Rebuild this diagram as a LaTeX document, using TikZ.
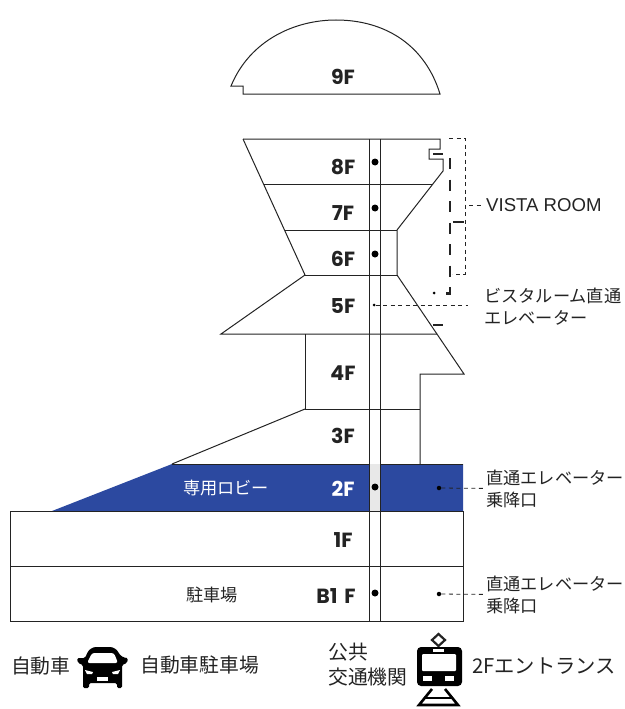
\documentclass[tikz,border=0pt]{standalone}
\usepackage{fontspec}
\setmainfont{Liberation Sans}
\newfontfamily\jpfont{Noto Sans CJK JP}
\newfontfamily\floorfont{Poppins}
\definecolor{lobbyblue}{RGB}{44,73,160}
\definecolor{inkgray}{RGB}{35,35,35}
\tikzset{
  floorlabel/.style={font=\floorfont\bfseries\fontsize{20.5}{22}\selectfont,text=inkgray,inner sep=0pt},
  jplabel/.style={font=\jpfont\fontsize{17.2}{22}\selectfont,text=inkgray,inner sep=0pt,anchor=west,align=left},
  iconlabel/.style={font=\jpfont\fontsize{19.8}{25}\selectfont,text=inkgray,inner sep=0pt,anchor=west,align=left},
  wall/.style={draw=inkgray,line width=1pt},
  leader/.style={draw=inkgray,line width=0.8pt,dash pattern=on 4pt off 3.5pt},
  route/.style={draw=inkgray,line width=2.6pt},
  bigdot/.style={circle,fill=black,inner sep=0pt,minimum size=7pt},
  smalldot/.style={circle,fill=black,inner sep=0pt,minimum size=4.5pt},
}
\begin{document}
\begin{tikzpicture}[x=1pt,y=-1pt]
\useasboundingbox (0,0) rectangle (624,709);

% 9F dome
\draw[wall] (231,86) .. controls (250,40) and (295,20) .. (336,20)
  .. controls (385,20) and (425,45) .. (440,94) -- (243,94) -- (243,86) -- cycle;

% main building
\draw[wall] (243,139) -- (440,139) -- (440,149) -- (429,149) -- (429,159) -- (443,159) -- (443,171)
  -- (397,230) -- (397,275) -- (464,374) -- (420,374) -- (420,464);
\draw[wall] (243,139) -- (305,275) -- (221,334) -- (437,334);
\draw[wall] (264,184) -- (432,184);
\draw[wall] (285,230) -- (397,230);
\draw[wall] (305,275) -- (397,275);
\draw[wall] (305,334) -- (305,409) -- (420,409);
\draw[wall] (305,409) -- (172,464);

% lower floors
\fill[lobbyblue] (52,511) -- (172,464) -- (463,464) -- (463,511) -- cycle;
\draw[wall] (172,464) -- (463,464);
\draw[wall] (10,511) rectangle (463,566);
\draw[wall] (10,566) rectangle (463,621);

% shaft
\fill[black!9] (369,464) rectangle (380,511);
\draw[wall] (369,139) -- (369,621);
\draw[wall] (380,139) -- (380,621);

% vista room route
\draw[route,dash pattern=on 11pt off 10.5pt] (450,158) -- (450,293.5) -- (445,293.5);
\draw[route] (433,154) -- (443,154);
\draw[route] (453,222) -- (464,222);
\draw[route] (433,325) -- (443,325);
\node[smalldot,minimum size=3pt] (viewdot) at (434,293) {};
\draw[leader] (449,138) -- (465,138) -- (465,274) -- (452,274);

% floors
\node[floorlabel] (f9) at (343,77) {9F};
\node[floorlabel] (f8) at (343,167) {8F};
\node[floorlabel] (f7) at (343,213) {7F};
\node[floorlabel] (f6) at (343,259) {6F};
\node[floorlabel] (f5) at (343,306) {5F};
\node[floorlabel] (f4) at (343,373) {4F};
\node[floorlabel] (f3) at (343,436) {3F};
\node[floorlabel,text=white] (f2) at (343,489) {2F};
\node[floorlabel] (f1) at (343,540) {1F};
\node[floorlabel] (fb) at (336,596) {B1\,\,F};

% dots
\node[bigdot] (d8) at (375,162) {};
\node[bigdot] (d7) at (375,208) {};
\node[bigdot] (d6) at (375,254) {};
\node[smalldot,minimum size=3pt] (d5) at (374,305) {};
\node[bigdot] (d2) at (375,487) {};
\node[bigdot] (db) at (375,593) {};
\node[smalldot] (e2) at (439,488) {};
\node[smalldot] (eb) at (439,594) {};

% labels
\node[jplabel,text=white,anchor=center] (lobby) at (226,488) {専用ロビー};
\node[jplabel,anchor=center] (park) at (212,595) {駐車場};
\node[jplabel,font=\fontsize{18.6}{20}\selectfont] (vista) at (486,205) {VISTA ROOM};
\node[jplabel] (vistalift) at (484,307) {ビスタルーム直通\\エレベーター};
\node[jplabel] (lift2) at (486,489) {直通エレベーター\\乗降口};
\node[jplabel] (liftb) at (486,595) {直通エレベーター\\乗降口};
\coordinate (vistaend) at (469,205);
\coordinate (d5end) at (468,305);

\draw[leader,shorten >=4pt] (vistaend) -- (vista);
\draw[leader] (d5) -- (d5end);
\draw[leader,shorten >=3pt] (e2) -- (lift2);
\draw[leader,shorten >=3pt] (eb) -- (liftb);

% access
\node[iconlabel] (bycar) at (11,666) {自動車};
\node[iconlabel] (carpark) at (140,665) {自動車駐車場};
\node[iconlabel] (bytrain) at (328,665) {公共\\交通機関};
\node[iconlabel,font=\jpfont\fontsize{20.3}{25}\selectfont] (entrance) at (472,666) {2Fエントランス};

% car icon
\fill[black,rounded corners=1.5pt] (83,688) -- (83,665) -- (78,663) -- (77,658) -- (85,658)
  [rounded corners=6pt] -- (90,647) -- (116,647) -- (121,658) [rounded corners=1.5pt] -- (128,658) -- (127,663) -- (122,665)
  -- (122,688) -- (117,688) -- (117,683) -- (89,683) -- (89,688) -- cycle;
\fill[white,rounded corners=2.5pt] (87,663) -- (92,653) -- (114,653) -- (118,663) -- cycle;
\fill[white] (85,670) -- (93,672) -- (92,674) -- (87,674) -- cycle;
\fill[white] (120,670) -- (112,672) -- (113,674) -- (118,674) -- cycle;
\fill[white] (97,677) rectangle (108,681);

% train icon
\draw[inkgray,line width=2.2pt] (438.5,634) -- (445,640) -- (438.5,646) -- (432,640) -- cycle;
\fill[black,rounded corners=4pt] (417,647) rectangle (462,686);
\fill[white] (433,649) rectangle (444,651.5);
\fill[white,rounded corners=1pt] (422,654) rectangle (456,671);
\fill[white] (423,676) rectangle (432,681);
\fill[white] (445,676) rectangle (454,681);
\draw[black,line width=2.6pt] (432,689) -- (419,705) -- (458,705) -- (445,689);
\draw[black,line width=2.6pt] (426,698) -- (451,698);
\end{tikzpicture}
\end{document}
